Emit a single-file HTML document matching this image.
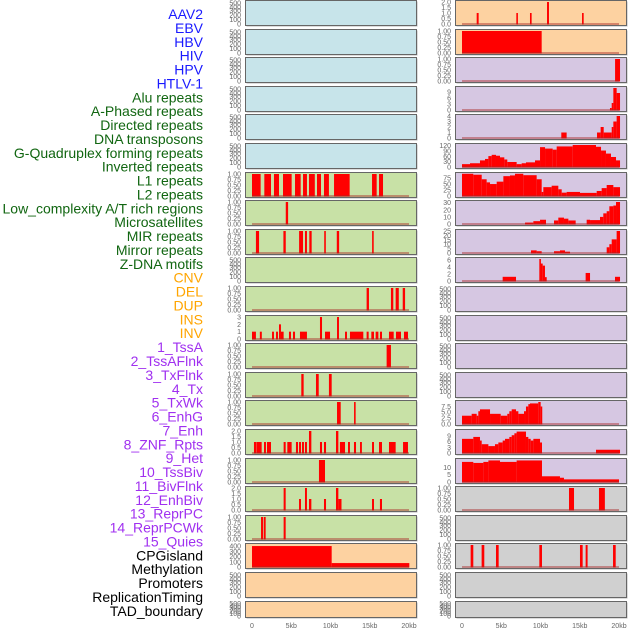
<!DOCTYPE html>
<html><head><meta charset="utf-8"><style>
html,body{margin:0;padding:0;background:#fff}
svg{display:block}
</style></head><body>
<svg id="chart" width="630" height="630" viewBox="0 0 630 630" xmlns="http://www.w3.org/2000/svg" font-family="Liberation Sans, sans-serif"></svg>
<script>
const trackLabels = ["AAV2","EBV","HBV","HIV","HPV","HTLV-1","Alu repeats","A-Phased repeats","Directed repeats","DNA transposons","G-Quadruplex forming repeats","Inverted repeats","L1 repeats","L2 repeats","Low_complexity A/T rich regions","Microsatellites","MIR repeats","Mirror repeats","Z-DNA motifs","CNV","DEL","DUP","INS","INV","1_TssA","2_TssAFlnk","3_TxFlnk","4_Tx","5_TxWk","6_EnhG","7_Enh","8_ZNF_Rpts","9_Het","10_TssBiv","11_BivFlnk","12_EnhBiv","13_ReprPC","14_ReprPCWk","15_Quies","CPGisland","Methylation","Promoters","ReplicationTiming","TAD_boundary"];
const labelColors = ["#1a1aff","#1a1aff","#1a1aff","#1a1aff","#1a1aff","#1a1aff","#116611","#116611","#116611","#116611","#116611","#116611","#116611","#116611","#116611","#116611","#116611","#116611","#116611","#ffa500","#ffa500","#ffa500","#ffa500","#ffa500","#a030f0","#a030f0","#a030f0","#a030f0","#a030f0","#a030f0","#a030f0","#a030f0","#a030f0","#a030f0","#a030f0","#a030f0","#a030f0","#a030f0","#a030f0","#000","#000","#000","#000","#000"];
const xTickVals = [0,5,10,15,20];
const xTickLabels = ["0","5kb","10kb","15kb","20kb"];
const emptyTicks = ["0","100","200","300","400","500"];
const binTicks = ["0.00","0.25","0.50","0.75","1.00"];

const aluBars = [[0,1.1,1],[1.57,2.42,1],[2.8,3.44,1],[3.95,5.05,1],[5.48,6.2,1],[6.5,7.0,1],[7.26,8.0,1],[8.28,8.79,1],[9.17,9.8,1],[10.45,12.44,1],[15.29,15.88,1],[16.18,16.69,1]];
const aphasedBars = [[4.3,4.6,1]];
const directedBars = [[0.5,0.9,1],[4.0,4.3,1],[6.0,6.5,1],[6.75,7.0,1],[7.3,7.6,1],[9.2,9.4,1],[10.8,11.1,1],[15.3,15.5,1]];
const gquadBars = [[14.6,14.9,1],[17.7,18.0,1],[18.3,18.7,1],[19.2,19.5,1]];
const invertedBars = [[0,0.5,1],[1.0,1.25,1],[2.55,2.8,1],[3.06,3.31,1],[3.44,3.69,2],[3.69,4.03,1],[4.71,4.97,1],[5.22,5.48,1],[6.11,7.0,1],[8.66,8.92,3],[9.3,9.94,1],[10.83,11.08,3],[11.85,12.1,1],[12.48,14.18,1],[14.6,14.86,1],[15.2,15.54,1],[15.75,16.1,1],[16.3,16.56,1],[17.45,18.05,1],[18.34,18.98,1],[19.36,19.87,1]];
const l1Bars = [[17.15,17.7,1]];
const l2Bars = [[6.28,6.58,1],[8.15,8.5,1],[9.8,10.15,1]];
const lowcBars = [[10.83,11.3,1],[13.0,13.2,1]];
const microBars = [[0.25,0.55,1],[0.59,1.23,1],[1.53,1.78,1],[1.91,2.42,1],[4.03,4.29,1],[4.5,5.05,1],[5.6,5.86,1],[5.99,6.24,1],[6.37,6.62,1],[6.75,7.0,1],[7.26,7.56,2],[8.66,8.92,1],[9.17,9.43,1],[10.7,11.0,2],[11.2,11.85,1],[12.23,12.48,1],[12.99,13.25,1],[13.76,14.0,1],[15.29,15.54,1],[16.18,16.56,1],[17.45,18.3,1],[19.24,19.87,1]];
const mirBars = [[8.53,9.3,1]];
const mirrorBars = [[4.03,4.29,2],[5.99,6.24,1],[6.75,7.0,2],[7.26,7.56,1],[9.17,9.43,1],[10.7,11.0,2],[11.0,11.4,1],[15.29,15.54,1],[16.3,16.56,1]];
const zdnaBars = [[1.15,1.4,1],[1.49,1.74,1],[4.03,4.29,1]];
const cnvBars = [[0,10.15,400],[10.15,20.04,75]];
const insBars = [[1.87,2.12,1],[6.92,7.1,1],[8.66,8.87,1],[10.83,11.08,2],[15.29,15.5,1]];
const invBars = [[0,10.15,1]];
const tssaBars = [[19.5,20.13,1]];
const tssaflnkBars = [[18.85,19.07,1],[19.07,19.28,3.5],[19.28,19.7,11],[19.7,20.13,8.5]];
const txflnkBars = [[12.65,13.33,1],[17.2,17.66,1],[17.66,18.05,2],[18.05,19.07,1],[19.07,19.28,2],[19.28,19.7,3],[19.7,20.13,4]];
const txEdges = [0,1.02,2.29,2.93,3.36,3.78,4.33,4.84,5.39,5.77,6.96,7.6,8.15,9.3,9.94,10.58,11.55,12.06,14.1,17.07,17.71,18.34,18.98,19.62,20.13];
const txVals = [16,21,37,45,61,68,63,54,42,28,16,21,26,37,111,103,97,115,123,113,92,75,56,37];
const txwkEdges = [0,1.44,2.51,3.14,3.57,4.42,5.27,6.11,6.75,7.81,9.51,10.15,10.36,11.42,12.27,12.7,13.33,15.03,17.16,17.79,18.43,19.28,20.13];
const txwkVals = [93,89,70,57,50,60,83,86,93,87,70,17,37,43,28,14,17,13,21,33,46,37];
const enhgBars = [[8.03,9.09,2],[9.09,9.94,4],[9.94,10.7,6],[11.72,12.27,5],[12.27,12.99,9],[12.99,13.55,7.5],[13.55,14.48,5],[15.88,16.31,6],[16.31,17.58,5.5],[17.58,18.0,10],[18.0,18.43,15],[18.43,18.77,18],[18.77,19.28,25],[19.28,19.62,26],[19.62,20.13,31]];
const enhBars = [[8.79,9.51,3],[9.51,10.15,2],[11.72,12.48,2],[12.48,13.12,3],[13.12,13.76,1.5],[18.43,18.77,6.5],[18.77,19.07,10],[19.07,19.7,15.5],[19.7,20.13,25]];
const znfBars = [[5.18,6.88,1.2],[9.85,10.02,6.3],[10.02,10.28,5],[10.28,10.57,4.4],[10.57,10.79,1.1],[15.75,16.31,2.3],[19.49,20.13,1.2]];
const reprpcEdges = [0,1.23,1.87,2.08,2.29,3.57,4.93,5.77,6.03,6.33,6.88,7.18,7.9,8.15,8.45,8.66,9.72,10.02,10.19];
const reprpcVals = [3.5,4.3,3.5,5.4,6.2,4.3,3.5,4.3,5.4,6.2,5.4,4.3,5.4,7.4,8.4,8.7,9.3,7.4];
const reprpcwkEdges = [0,1.44,2.29,2.51,3.36,4.2,4.63,5.18,5.48,6.03,6.33,6.67,6.96,8.15,8.45,8.75,9.09,9.94,10.19];
const reprpcwkVals = [7.4,8.4,6.5,4.6,3.6,4.6,5.5,6.5,7.4,8.4,9.3,10.3,11.2,8.4,7.4,6.5,7.4,5.5];
const reprpcwkTail = [[17.07,20.13,1.7]];
const quiesEdges = [0,1.44,2.72,3.36,4.84,6.96,10.19,12.48,12.99,20.0];
const quiesVals = [13.7,13,13.7,14.7,13.7,14.7,3.9,2.9,1.8];
const cpgBars = [[13.63,14.27,1],[17.45,18.2,1]];
const promoterBars = [[1.1,1.44,1],[2.5,2.84,1],[4.33,4.67,1],[9.85,10.19,1],[15.03,15.37,1],[15.75,16.0,1],[19.24,19.58,1]];

function stepBars(edges, vals){ const out=[]; for(let i=0;i<vals.length;i++) out.push([edges[i],edges[i+1],vals[i]]); return out; }

const C_BLUE="#c7e4ea",C_GREEN="#c8e1a6",C_ORANGE="#fdd2a1",C_LAV="#d6c7e2",C_GREY="#d0d0d0";
const panels = [
 // left column
 {n:"aav2",c:C_BLUE},{n:"ebv",c:C_BLUE},{n:"hbv",c:C_BLUE},{n:"hiv",c:C_BLUE},{n:"hpv",c:C_BLUE},{n:"htlv1",c:C_BLUE},
 {n:"alu",c:C_GREEN,bars:aluBars,ymax:1,t:binTicks},
 {n:"aphased",c:C_GREEN,bars:aphasedBars,ymax:1,t:binTicks},
 {n:"directed",c:C_GREEN,bars:directedBars,ymax:1,t:binTicks},
 {n:"dna-transposons",c:C_GREEN},
 {n:"gquad",c:C_GREEN,bars:gquadBars,ymax:1,t:binTicks},
 {n:"inverted",c:C_GREEN,bars:invertedBars,ymax:3,t:["0","1","2","3"]},
 {n:"l1",c:C_GREEN,bars:l1Bars,ymax:1,t:binTicks},
 {n:"l2",c:C_GREEN,bars:l2Bars,ymax:1,t:binTicks},
 {n:"low-complexity",c:C_GREEN,bars:lowcBars,ymax:1,t:binTicks},
 {n:"microsatellites",c:C_GREEN,bars:microBars,ymax:2,t:["0.0","0.5","1.0","1.5","2.0"]},
 {n:"mir",c:C_GREEN,bars:mirBars,ymax:1,t:binTicks},
 {n:"mirror",c:C_GREEN,bars:mirrorBars,ymax:2,t:["0.0","0.5","1.0","1.5","2.0"]},
 {n:"zdna",c:C_GREEN,bars:zdnaBars,ymax:1,t:binTicks},
 {n:"cnv",c:C_ORANGE,bars:cnvBars,ymax:420,t:["0","100","200","300","400"]},
 {n:"del",c:C_ORANGE},{n:"dup",c:C_ORANGE},
 // right column
 {n:"ins",c:C_ORANGE,bars:insBars,ymax:2,t:["0.0","0.5","1.0","1.5","2.0"]},
 {n:"inv",c:C_ORANGE,bars:invBars,ymax:1,t:binTicks},
 {n:"tssa",c:C_LAV,bars:tssaBars,ymax:1,t:binTicks},
 {n:"tssaflnk",c:C_LAV,bars:tssaflnkBars,ymax:11,t:["0","3","6","9"]},
 {n:"txflnk",c:C_LAV,bars:txflnkBars,ymax:4,t:["0","1","2","3","4"]},
 {n:"tx",c:C_LAV,bars:stepBars(txEdges,txVals),ymax:123,t:["0","30","60","90","120"]},
 {n:"txwk",c:C_LAV,bars:stepBars(txwkEdges,txwkVals),ymax:92,t:["0","25","50","75"]},
 {n:"enhg",c:C_LAV,bars:enhgBars,ymax:31,t:["0","10","20","30"]},
 {n:"enh",c:C_LAV,bars:enhBars,ymax:25,t:["0","5","10","15","20","25"]},
 {n:"znf",c:C_LAV,bars:znfBars,ymax:6.3,t:["0","2","4","6"]},
 {n:"het",c:C_LAV},{n:"tssbiv",c:C_LAV},{n:"bivflnk",c:C_LAV},{n:"enhbiv",c:C_LAV},
 {n:"reprpc",c:C_LAV,bars:stepBars(reprpcEdges,reprpcVals),ymax:9.3,t:["0.0","2.5","5.0","7.5"]},
 {n:"reprpcwk",c:C_LAV,bars:stepBars(reprpcwkEdges,reprpcwkVals).concat(reprpcwkTail),ymax:11.5,t:["0","3","6","9"]},
 {n:"quies",c:C_LAV,bars:stepBars(quiesEdges,quiesVals),ymax:15,t:["0","5","10"]},
 {n:"cpgisland",c:C_GREY,bars:cpgBars,ymax:1,t:binTicks},
 {n:"methylation",c:C_GREY},
 {n:"promoters",c:C_GREY,bars:promoterBars,ymax:1,t:binTicks},
 {n:"replication-timing",c:C_GREY},{n:"tad-boundary",c:C_GREY}
];
const emptyFrac=[0,0.21,0.4,0.62,0.78,0.95];

const NS="http://www.w3.org/2000/svg";
const svg=document.getElementById("chart");
function mk(tag,attrs,parent){const e=document.createElementNS(NS,tag);for(const k in attrs)e.setAttribute(k,attrs[k]);(parent||svg).appendChild(e);return e;}

// labels
trackLabels.forEach((lab,i)=>{
  const t=mk("text",{x:203,y:19+i*13.88,"text-anchor":"end","font-size":"14",fill:labelColors[i]});
  
  
  t.textContent=lab;
});

const colX=[245,455];
function rowTop(r){return Math.round(r*28.6);}
function xScale(col,kb){return colX[col]+7+kb*7.85;}

panels.forEach((p,idx)=>{
  const col=idx<22?0:1, row=idx%22;
  const top=rowTop(row), h=row===21?16:25, x0=colX[col], w=171;
  const g=mk("g",{});
  
  
  mk("rect",{x:x0+1.5,y:top+1.5,width:w,height:h,fill:"#b8b8b8"},g);
  mk("rect",{x:x0+0.5,y:top+0.5,width:w,height:h,fill:p.c,stroke:"#666","stroke-width":1},g);
  const yv=v=>top+h-1-v/(p.ymax||1)*(h-3);
  // ticks
  if(p.bars){
    const nt=p.t.length;
    p.t.forEach((lab,k)=>{
      const v=parseFloat(lab);
      const tt=mk("text",{x:x0-4,y:yv(v)+2.5,"text-anchor":"end","font-size":"7",fill:"#666"},g);
      
      
      tt.textContent=lab;
    });
    p.bars.forEach(b=>{
      const xa=xScale(col,b[0]), xb=xScale(col,b[1]);
      const yt=yv(b[2]), yb=yv(0);
      const r=mk("rect",{x:xa,y:Math.max(top+1,yt),width:Math.max(1.6,xb-xa),height:yb-Math.max(top+1,yt)+0.5,fill:"#ff0000"},g);
      
      
    });
    const bl=mk("line",{x1:xScale(col,0),x2:xScale(col,20),y1:yv(0),y2:yv(0),stroke:"rgba(170,40,40,0.6)","stroke-width":1.5},g);
    
    
  } else {
    emptyTicks.forEach((lab,k)=>{
      const tt=mk("text",{x:x0-4,y:top+h-1-emptyFrac[k]*(h-3)+2.5,"text-anchor":"end","font-size":"7",fill:"#666"},g);
      
      
      tt.textContent=lab;
    });
  }
});

// x-axis labels
[0,1].forEach(col=>{
  xTickVals.forEach((v,k)=>{
    const t=mk("text",{x:xScale(col,v),y:628,"text-anchor":"middle","font-size":"7",fill:"#666"});
    
    
    t.textContent=xTickLabels[k];
  });
});
</script>
</body></html>
